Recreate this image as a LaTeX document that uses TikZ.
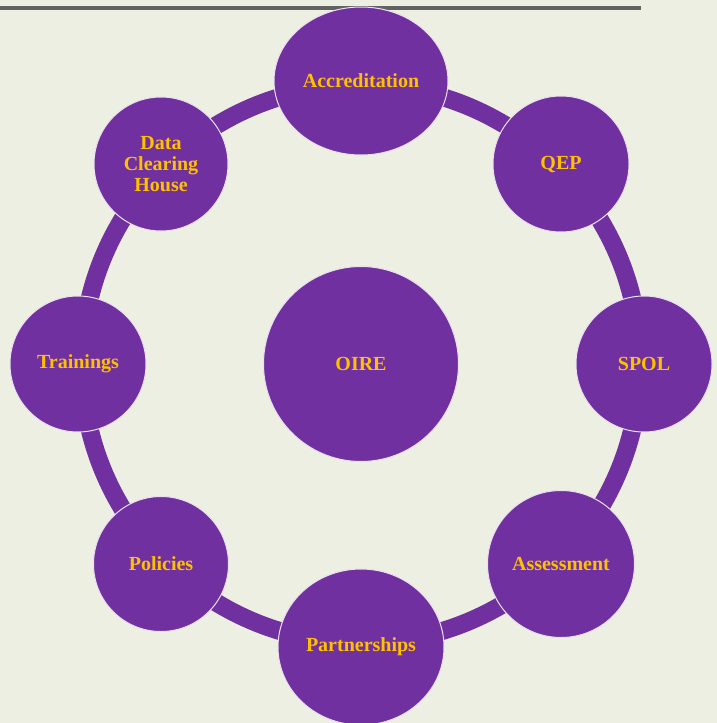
\documentclass[tikz,border=0pt]{standalone}
\usepackage{fontspec}
\setmainfont{Liberation Serif}
\usetikzlibrary{shapes.geometric}
\definecolor{bgc}{HTML}{EDEFE3}
\definecolor{purp}{HTML}{7030A0}
\definecolor{gold}{HTML}{FFC000}
\definecolor{rulegray}{HTML}{626262}
\tikzset{
  hub/.style={circle, fill=purp, draw=white!85!purp, line width=1pt, inner sep=0pt,
    text=gold, font=\bfseries\fontsize{20}{21}\selectfont, align=center},
  oval/.style={ellipse, fill=purp, draw=white!85!purp, line width=1pt, inner sep=0pt,
    text=gold, font=\bfseries\fontsize{20}{21}\selectfont, align=center},
  ringline/.style={draw=purp, line width=18pt},
  topline/.style={draw=rulegray, line width=4pt}
}
\begin{document}
\begin{tikzpicture}[x=1pt,y=-1pt]
\fill[bgc] (0,0) rectangle (717,723);
\useasboundingbox (0,0) rectangle (717,723);
\coordinate (lineL) at (0,8);
\coordinate (lineR) at (641,8);
\draw[topline] (lineL) -- (lineR);
\coordinate (ctr) at (361,364);
\draw[ringline] (ctr) circle[radius=279pt];
\node[oval, minimum width=174pt, minimum height=148pt] (accr) at (361,81) {Accreditation};
\node[hub, minimum size=136pt] (qep) at (561,164) {QEP};
\node[hub, minimum size=136pt] (spol) at (644,364) {SPOL};
\node[hub, minimum size=147pt] (assess) at (561,564) {Assessment};
\node[oval, minimum width=166pt, minimum height=156pt] (partner) at (361,647) {Partnerships};
\node[hub, minimum size=135pt] (policies) at (161,564) {Policies};
\node[hub, minimum size=136pt] (train) at (78,364) {Trainings};
\node[hub, minimum size=134pt] (dch) at (161,164) {Data\\Clearing\\House};
\node[hub, minimum size=195pt] (oire) at (361,364) {OIRE};
\end{tikzpicture}
\end{document}
